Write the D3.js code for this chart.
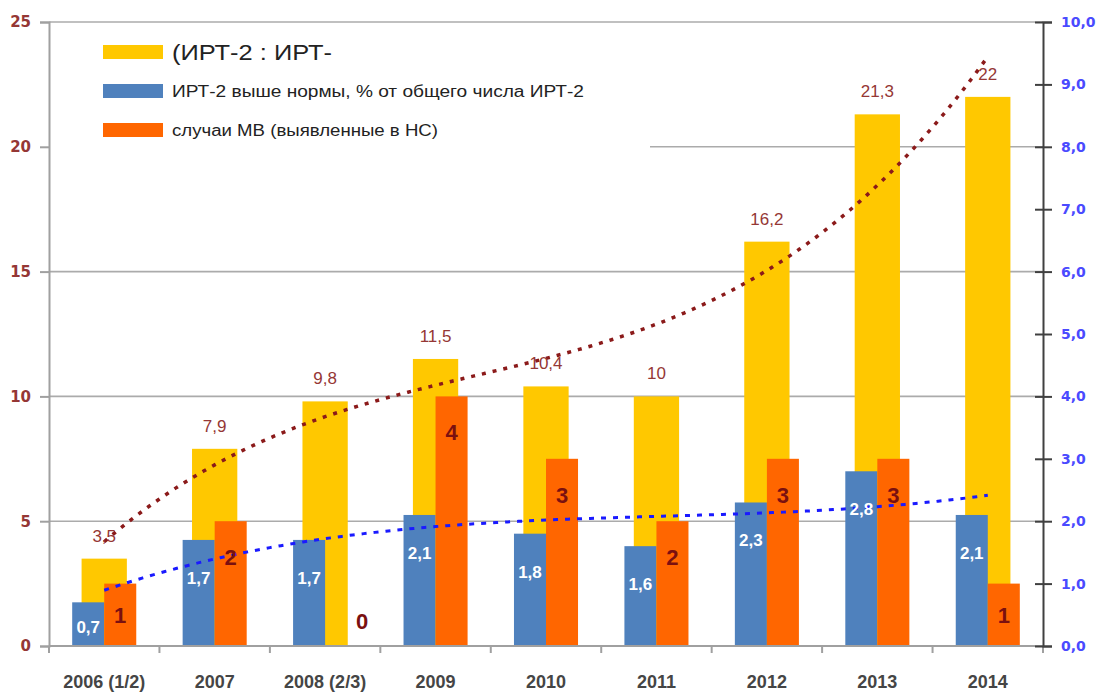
<!DOCTYPE html>
<html>
<head>
<meta charset="utf-8">
<script src="https://cdn.jsdelivr.net/npm/d3@7"></script>
<style>
  body { margin: 0; background: #fff; }
  svg { display: block; }
</style>
</head>
<body>
<div id="chart"></div>
<script>
const years = ["2006 (1/2)", "2007", "2008 (2/3)", "2009", "2010", "2011", "2012", "2013", "2014"];
const ratio = [3.5, 7.9, 9.8, 11.5, 10.4, 10, 16.2, 21.3, 22];          // yellow, left axis
const abovePct = [0.7, 1.7, 1.7, 2.1, 1.8, 1.6, 2.3, 2.8, 2.1];         // blue, right axis
const cases = [1, 2, 0, 4, 3, 2, 3, 3, 1];                              // orange, right axis
const leftTicks = [0, 5, 10, 15, 20, 25];
const rightTicks = [0, 1, 2, 3, 4, 5, 6, 7, 8, 9, 10];
const legendLabels = ["(ИРТ-2 : ИРТ-", "ИРТ-2 выше нормы, % от общего числа ИРТ-2", "случаи МВ (выявленные в НС)"];

const width = 1100, height = 693;
const margin = {left: 49, right: 57, top: 22, bottom: 47};

const yellow = "#FFC800", blue = "#4F81BD", orange = "#FF6600";
const darkRed = "#953735";

const ru = d3.formatLocale({decimal: ",", thousands: " ", grouping: [3], currency: ["", ""]});
const fmt1 = ru.format(".1f");
const fmtV = v => String(v).replace(".", ",");

const svg = d3.select("#chart").append("svg")
  .attr("width", width)
  .attr("height", height);

let x = d3.scaleBand()
  .domain(years)
  .range([margin.left, width - margin.right]);

let yL = d3.scaleLinear().domain([0, 25]).range([height - margin.bottom, margin.top]);
let yR = d3.scaleLinear().domain([0, 10]).range([height - margin.bottom, margin.top]);

let bw = x.bandwidth();
let yw = bw * 0.41;      // yellow bar width
let sw = bw * 0.29;      // blue / orange bar width

// gridlines
svg.append("g")
  .selectAll("line")
  .data(leftTicks.filter(d => d > 0))
  .enter()
  .append("line")
  .attr("x1", margin.left)
  .attr("x2", width - margin.right)
  .attr("y1", d => yL(d))
  .attr("y2", d => yL(d))
  .attr("stroke", "#ababab")
  .attr("stroke-width", 1.6);

// legend background hides part of the grid
svg.append("rect")
  .attr("x", margin.left + 1)
  .attr("y", 30)
  .attr("width", 600)
  .attr("height", 132)
  .attr("fill", "#fff");

// yellow bars (primary axis)
svg.append("g")
  .selectAll("rect")
  .data(ratio)
  .enter()
  .append("rect")
  .attr("x", (d, i) => x(years[i]) + bw / 2 - yw / 2)
  .attr("y", d => yL(d))
  .attr("width", yw)
  .attr("height", d => yL(0) - yL(d))
  .attr("fill", yellow);

// blue bars
svg.append("g")
  .selectAll("rect")
  .data(abovePct)
  .enter()
  .append("rect")
  .attr("x", (d, i) => x(years[i]) + bw / 2 - sw)
  .attr("y", d => yR(d))
  .attr("width", sw)
  .attr("height", d => yR(0) - yR(d))
  .attr("fill", blue);

// orange bars
svg.append("g")
  .selectAll("rect")
  .data(cases)
  .enter()
  .append("rect")
  .attr("x", (d, i) => x(years[i]) + bw / 2)
  .attr("y", d => yR(d))
  .attr("width", sw)
  .attr("height", d => yR(0) - yR(d))
  .attr("fill", orange);

// polynomial trendlines, like the spreadsheet does
function polyFit(ys, order) {
  let n = order + 1;
  let A = [], b = [];
  for (let r = 0; r < n; r++) {
    A.push(new Array(n).fill(0));
    b.push(0);
  }
  ys.forEach((v, i) => {
    let xv = i + 1;
    for (let r = 0; r < n; r++) {
      for (let c = 0; c < n; c++) A[r][c] += Math.pow(xv, r + c);
      b[r] += v * Math.pow(xv, r);
    }
  });
  for (let c = 0; c < n; c++) {
    let p = c;
    for (let r = c + 1; r < n; r++) if (Math.abs(A[r][c]) > Math.abs(A[p][c])) p = r;
    [A[c], A[p]] = [A[p], A[c]];
    [b[c], b[p]] = [b[p], b[c]];
    for (let r = c + 1; r < n; r++) {
      let f = A[r][c] / A[c][c];
      for (let k = c; k < n; k++) A[r][k] -= f * A[c][k];
      b[r] -= f * b[c];
    }
  }
  let coef = new Array(n).fill(0);
  for (let r = n - 1; r >= 0; r--) {
    let s = b[r];
    for (let k = r + 1; k < n; k++) s -= A[r][k] * coef[k];
    coef[r] = s / A[r][r];
  }
  return t => coef.reduce((acc, cf, k) => acc + cf * Math.pow(t, k), 0);
}

function trendPoints(ys, scale) {
  let f = polyFit(ys, 3);
  let pts = [];
  for (let t = 1; t <= ys.length; t += 0.05) {
    let px = x(years[0]) + bw / 2 + (t - 1) * x.step();
    pts.push([px, scale(f(t))]);
  }
  return pts;
}

let line = d3.line().curve(d3.curveLinear);

svg.append("path")
  .attr("d", line(trendPoints(ratio, yL)))
  .attr("fill", "none")
  .attr("stroke", "#8B1A1A")
  .attr("stroke-width", 3.5)
  .attr("stroke-dasharray", "4,7");

svg.append("path")
  .attr("d", line(trendPoints(abovePct, yR)))
  .attr("fill", "none")
  .attr("stroke", "#1a1aff")
  .attr("stroke-width", 3)
  .attr("stroke-dasharray", "5,7");

// yellow labels
svg.append("g")
  .selectAll("text")
  .data(ratio)
  .enter()
  .append("text")
  .attr("x", (d, i) => x(years[i]) + bw / 2)
  .attr("y", d => yL(d) - 17)
  .attr("text-anchor", "middle")
  .attr("font-family", "Liberation Sans, Arial, sans-serif")
  .attr("font-size", 17)
  .attr("fill", darkRed)
  .text(d => fmtV(d));

// blue labels
svg.append("g")
  .selectAll("text")
  .data(abovePct)
  .enter()
  .append("text")
  .attr("x", (d, i) => x(years[i]) + bw / 2 - sw / 2)
  .attr("y", d => Math.min(yR(d) + 38, yR(0) - 19) + 6)
  .attr("text-anchor", "middle")
  .attr("font-family", "Liberation Sans, Arial, sans-serif")
  .attr("font-weight", "bold")
  .attr("font-size", 17)
  .attr("fill", "#fff")
  .text(d => fmtV(d));

// orange labels
svg.append("g")
  .selectAll("text")
  .data(cases)
  .enter()
  .append("text")
  .attr("x", (d, i) => x(years[i]) + bw / 2 + sw / 2 + (d === 0 ? 21 : 0))
  .attr("y", d => d === 0 ? yR(0) - 25 + 8 : Math.min(yR(d) + 36, (yR(d) + yR(0)) / 2) + 8)
  .attr("text-anchor", "middle")
  .attr("font-family", "Liberation Sans, Arial, sans-serif")
  .attr("font-weight", "bold")
  .attr("font-size", 22)
  .attr("fill", "#7a1010")
  .text(d => d);

// left axis
let leftAxis = svg.append("g")
  .attr("transform", `translate(${margin.left},0)`)
  .call(d3.axisLeft(yL).tickValues(leftTicks).tickSize(9).tickPadding(9).tickFormat(d3.format("d")));
leftAxis.select(".domain").attr("stroke", "#a0a0a0").attr("stroke-width", 2);
leftAxis.selectAll(".tick line").attr("stroke", "#a0a0a0").attr("stroke-width", 2);
leftAxis.selectAll("text")
  .attr("font-family", "DejaVu Sans, Verdana, sans-serif")
  .attr("font-weight", "bold")
  .attr("font-size", 15)
  .attr("fill", darkRed);

// bottom axis
let bottom = svg.append("g")
  .attr("transform", `translate(0,${yL(0)})`);
bottom.append("line")
  .attr("x1", margin.left)
  .attr("x2", width - margin.right)
  .attr("stroke", "#a0a0a0")
  .attr("stroke-width", 2);
bottom.selectAll(".sep")
  .data(years.concat(["end"]))
  .enter()
  .append("line")
  .attr("x1", (d, i) => margin.left + i * x.step())
  .attr("x2", (d, i) => margin.left + i * x.step())
  .attr("y1", 0)
  .attr("y2", 7)
  .attr("stroke", "#a0a0a0")
  .attr("stroke-width", 2);
bottom.selectAll("text")
  .data(years)
  .enter()
  .append("text")
  .attr("x", d => x(d) + bw / 2)
  .attr("y", 42)
  .attr("text-anchor", "middle")
  .attr("font-family", "Liberation Sans, Arial, sans-serif")
  .attr("font-weight", "bold")
  .attr("font-size", 18)
  .attr("fill", "#454545")
  .text(d => d);

// right axis
let rx = width - margin.right;
let rightAxis = svg.append("g")
  .attr("transform", `translate(${rx},0)`)
  .call(d3.axisRight(yR).tickValues(rightTicks).tickSize(9).tickPadding(9).tickFormat(fmt1));
rightAxis.select(".domain").attr("stroke", "#404040").attr("stroke-width", 2);
rightAxis.selectAll(".tick line").attr("x1", -8).attr("stroke", "#404040").attr("stroke-width", 2);
rightAxis.selectAll("text")
  .attr("font-family", "DejaVu Sans, Verdana, sans-serif")
  .attr("font-weight", "bold")
  .attr("font-size", 14)
  .attr("fill", "#4a4aff");

// legend
const legendColors = [yellow, blue, orange];
const legendSizes = [22, 16, 16];
const legendLengths = [160, 412, 266];
let legend = svg.append("g");
legendLabels.forEach((l, i) => {
  let ly = 52 + i * 39;
  legend.append("rect")
    .attr("x", 103)
    .attr("y", ly - 7)
    .attr("width", 60)
    .attr("height", 14)
    .attr("fill", legendColors[i]);
  legend.append("text")
    .attr("x", 172)
    .attr("y", ly + (i === 0 ? 8 : 6))
    .attr("font-family", "Liberation Sans, Arial, sans-serif")
    .attr("font-size", legendSizes[i])
    .attr("textLength", legendLengths[i])
    .attr("lengthAdjust", "spacingAndGlyphs")
    .attr("fill", "#222")
    .text(l);
});
</script>
</body>
</html>
